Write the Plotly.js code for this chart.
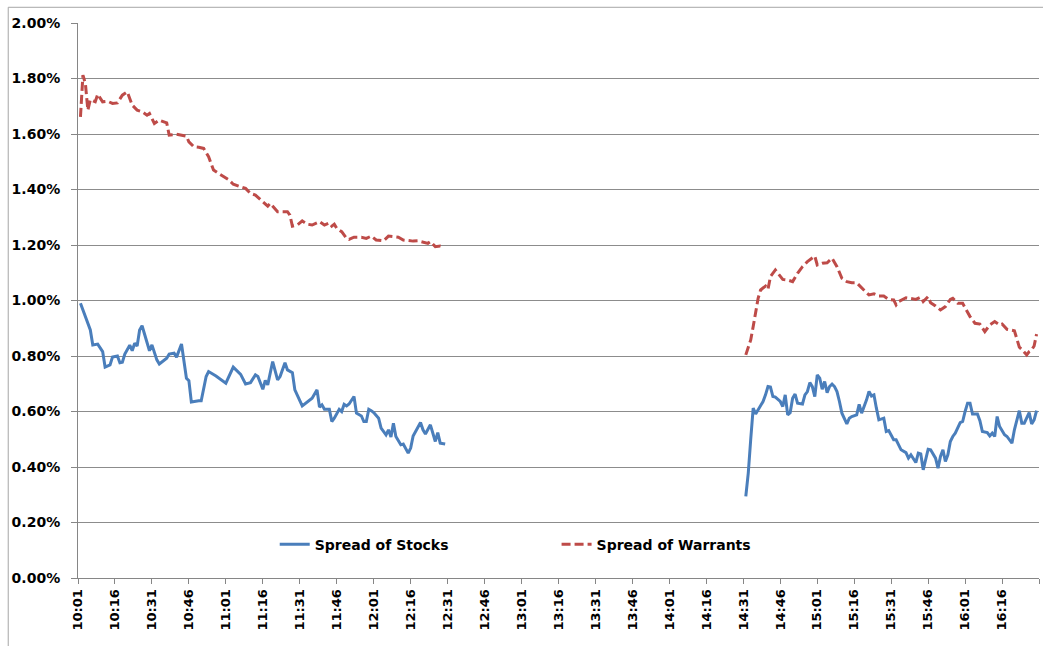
<!DOCTYPE html>
<html>
<head>
<meta charset="utf-8">
<script src="https://cdn.plot.ly/plotly-3.0.1.min.js"></script>
<style>html,body{margin:0;padding:0;background:#fff;}#chart{width:1043px;height:646px;}</style>
</head>
<body>
<div id="chart"></div>
<script>
// Spread of Stocks (in %), morning session
const stockAM_t = ["10:02","10:04","10:05","10:06","10:07","10:09","10:11","10:12","10:14","10:15","10:17","10:18","10:19","10:20","10:22","10:23","10:24","10:25","10:26","10:27","10:30","10:31","10:33","10:34","10:37","10:38","10:40","10:41","10:43","10:45","10:46","10:47","10:50","10:51","10:53","10:54","10:57","11:01","11:04","11:06","11:07","11:09","11:11","11:13","11:14","11:16","11:17","11:18","11:20","11:22","11:23","11:25","11:26","11:28","11:29","11:32","11:36","11:38","11:39","11:40","11:41","11:43","11:44","11:45","11:47","11:48","11:49","11:50","11:51","11:53","11:54","11:56","11:57","11:58","11:59","12:00","12:01","12:03","12:04","12:06","12:07","12:08","12:09","12:10","12:12","12:13","12:15","12:16","12:17","12:20","12:21","12:22","12:24","12:26","12:27","12:28","12:30"];
const stockAM_v = [0.990,0.940,0.915,0.894,0.840,0.843,0.816,0.760,0.768,0.796,0.800,0.776,0.778,0.807,0.839,0.819,0.846,0.836,0.894,0.909,0.819,0.840,0.786,0.771,0.792,0.807,0.810,0.796,0.843,0.720,0.711,0.634,0.639,0.639,0.726,0.744,0.728,0.702,0.760,0.744,0.734,0.699,0.704,0.732,0.726,0.680,0.712,0.696,0.780,0.714,0.726,0.776,0.750,0.740,0.678,0.620,0.648,0.678,0.616,0.624,0.608,0.608,0.564,0.576,0.608,0.600,0.626,0.620,0.627,0.654,0.594,0.584,0.564,0.564,0.608,0.603,0.596,0.576,0.540,0.516,0.534,0.508,0.558,0.510,0.480,0.483,0.450,0.468,0.512,0.560,0.534,0.519,0.552,0.492,0.524,0.486,0.483];

// Spread of Stocks (in %), afternoon session
const stockPM_t = ["14:32","14:33","14:34","14:35","14:36","14:38","14:39","14:40","14:41","14:42","14:43","14:44","14:46","14:47","14:48","14:49","14:50","14:51","14:52","14:53","14:55","14:56","14:57","14:58","14:59","15:00","15:01","15:02","15:03","15:04","15:05","15:06","15:07","15:08","15:09","15:10","15:11","15:13","15:14","15:15","15:17","15:18","15:19","15:21","15:22","15:23","15:24","15:25","15:26","15:28","15:29","15:30","15:32","15:33","15:34","15:35","15:37","15:38","15:39","15:41","15:42","15:43","15:44","15:45","15:46","15:47","15:49","15:50","15:51","15:52","15:53","15:54","15:55","15:56","15:57","15:59","16:00","16:01","16:02","16:03","16:04","16:06","16:07","16:08","16:10","16:11","16:12","16:13","16:14","16:15","16:17","16:18","16:20","16:21","16:23","16:24","16:25","16:27","16:28","16:29","16:30"];
const stockPM_v = [0.294,0.378,0.500,0.612,0.591,0.624,0.636,0.660,0.690,0.688,0.654,0.652,0.636,0.618,0.660,0.588,0.596,0.648,0.663,0.630,0.627,0.660,0.672,0.704,0.690,0.654,0.732,0.720,0.680,0.708,0.668,0.690,0.699,0.690,0.672,0.636,0.594,0.555,0.576,0.582,0.588,0.626,0.594,0.642,0.672,0.656,0.660,0.612,0.570,0.576,0.528,0.531,0.498,0.498,0.480,0.462,0.452,0.432,0.444,0.416,0.450,0.447,0.390,0.432,0.464,0.462,0.432,0.396,0.438,0.462,0.420,0.444,0.492,0.510,0.522,0.560,0.564,0.600,0.630,0.630,0.591,0.591,0.567,0.528,0.524,0.512,0.522,0.510,0.582,0.546,0.516,0.510,0.486,0.534,0.603,0.558,0.558,0.596,0.555,0.570,0.603];

// Spread of Warrants (in %), morning session
const warrAM_t = ["10:02","10:03","10:04","10:05","10:06","10:08","10:09","10:11","10:13","10:15","10:17","10:18","10:19","10:21","10:23","10:25","10:27","10:29","10:30","10:32","10:34","10:37","10:38","10:41","10:43","10:45","10:46","10:48","10:50","10:52","10:54","10:56","10:58","11:00","11:02","11:04","11:07","11:09","11:11","11:13","11:16","11:18","11:19","11:22","11:26","11:27","11:28","11:30","11:32","11:34","11:36","11:39","11:41","11:43","11:44","11:45","11:46","11:48","11:50","11:51","11:53","11:56","11:58","12:00","12:02","12:04","12:05","12:07","12:09","12:11","12:13","12:15","12:17","12:19","12:21","12:23","12:24","12:26","12:28","12:29"];
const warrAM_v = [1.662,1.812,1.782,1.686,1.724,1.716,1.743,1.716,1.718,1.710,1.712,1.724,1.740,1.752,1.704,1.686,1.680,1.668,1.674,1.638,1.650,1.640,1.596,1.599,1.596,1.592,1.572,1.554,1.552,1.548,1.518,1.470,1.458,1.448,1.436,1.419,1.410,1.404,1.386,1.380,1.356,1.340,1.350,1.320,1.320,1.308,1.268,1.272,1.287,1.275,1.272,1.284,1.272,1.280,1.268,1.275,1.260,1.248,1.224,1.220,1.228,1.228,1.224,1.232,1.218,1.215,1.215,1.232,1.230,1.228,1.218,1.215,1.214,1.215,1.211,1.206,1.212,1.194,1.196,1.194];

// Spread of Warrants (in %), afternoon session
const warrPM_t = ["14:32","14:34","14:35","14:36","14:37","14:38","14:40","14:41","14:42","14:44","14:45","14:47","14:49","14:51","14:53","14:55","14:57","14:59","15:00","15:01","15:03","15:05","15:07","15:09","15:11","15:13","15:15","15:17","15:19","15:21","15:22","15:24","15:26","15:28","15:30","15:32","15:33","15:34","15:37","15:41","15:43","15:44","15:46","15:47","15:49","15:51","15:53","15:55","15:56","15:58","16:00","16:01","16:03","16:05","16:07","16:09","16:11","16:13","16:15","16:16","16:18","16:21","16:22","16:23","16:24","16:26","16:27","16:28","16:29","16:30"];
const warrPM_v = [0.804,0.858,0.906,0.960,1.008,1.038,1.052,1.040,1.086,1.110,1.098,1.076,1.074,1.068,1.098,1.122,1.140,1.152,1.160,1.128,1.134,1.136,1.152,1.122,1.080,1.068,1.064,1.064,1.044,1.028,1.020,1.024,1.016,1.016,1.004,1.002,0.984,0.996,1.010,1.004,1.012,0.996,1.014,0.992,0.980,0.966,0.978,1.004,1.008,0.990,0.990,0.972,0.942,0.918,0.915,0.888,0.912,0.924,0.912,0.915,0.896,0.891,0.858,0.832,0.824,0.804,0.816,0.822,0.836,0.879];

const seriesNames = ["Spread of Stocks", "Spread of Warrants"];
const DAY = "2024-01-01 ";
const axisStart = "10:01", axisEnd = "16:30:59";

function joinSessions(tA, vA, tB, vB) {
  const x = tA.map(t => DAY + t).concat([DAY + "13:30"]).concat(tB.map(t => DAY + t));
  const y = vA.concat([null]).concat(vB);
  return {x, y};
}
const s = joinSessions(stockAM_t, stockAM_v, stockPM_t, stockPM_v);
const w = joinSessions(warrAM_t, warrAM_v, warrPM_t, warrPM_v);

const FONT = "DejaVu Sans, Arial, sans-serif";
const traces = [
  {x: s.x, y: s.y, type: "scatter", mode: "lines", name: seriesNames[0],
   connectgaps: false, line: {color: "#4A7EBB", width: 3}, legend: "legend"},
  {x: w.x, y: w.y, type: "scatter", mode: "lines", name: seriesNames[1],
   connectgaps: false, line: {color: "#BE4B48", width: 3, dash: "9px,4px"}, legend: "legend2"}
];

const layout = {
  width: 1043, height: 646,
  margin: {l: 78, r: 4, t: 23, b: 68},
  paper_bgcolor: "#fff", plot_bgcolor: "#fff",
  font: {family: FONT, color: "#000"},
  showlegend: true,
  legend: {x: 0.2047, y: 0.06, xanchor: "left", yanchor: "middle", bgcolor: "rgba(0,0,0,0)",
           font: {family: FONT, size: 14, weight: "bold", color: "#000"}},
  legend2: {x: 0.498, y: 0.06, xanchor: "left", yanchor: "middle", bgcolor: "rgba(0,0,0,0)",
           font: {family: FONT, size: 14, weight: "bold", color: "#000"}},
  xaxis: {
    type: "date",
    range: [DAY + axisStart, DAY + axisEnd],
    tick0: DAY + axisStart, dtick: 15 * 60 * 1000,
    tickformat: "%H:%M", tickangle: -90,
    ticks: "outside", ticklen: 5, tickcolor: "#868686",
    showline: true, linecolor: "#868686", linewidth: 1,
    showgrid: false, zeroline: false,
    tickfont: {family: FONT, size: 13, weight: "bold", color: "#000"}
  },
  yaxis: {
    range: [0, 2], dtick: 0.2, tickformat: ".2f", ticksuffix: "%",
    ticks: "outside", ticklen: 6, tickcolor: "#868686", ticklabelstandoff: 8,
    showline: true, linecolor: "#868686", linewidth: 1,
    showgrid: true, gridcolor: "#8c8c8c", gridwidth: 1, zeroline: false,
    tickfont: {family: FONT, size: 14, weight: "bold", color: "#000"}
  },
  shapes: [
    {type: "line", xref: "paper", yref: "paper", x0: -0.0726, x1: -0.0726, y0: 1.0283, y1: -0.13,
     line: {color: "#a6a6a6", width: 1}},
    {type: "line", xref: "paper", yref: "paper", x0: -0.0726, x1: 1.01, y0: 1.0283, y1: 1.0283,
     line: {color: "#a6a6a6", width: 1}}
  ]
};

Plotly.newPlot("chart", traces, layout, {displayModeBar: false, staticPlot: true});
</script>
</body>
</html>
